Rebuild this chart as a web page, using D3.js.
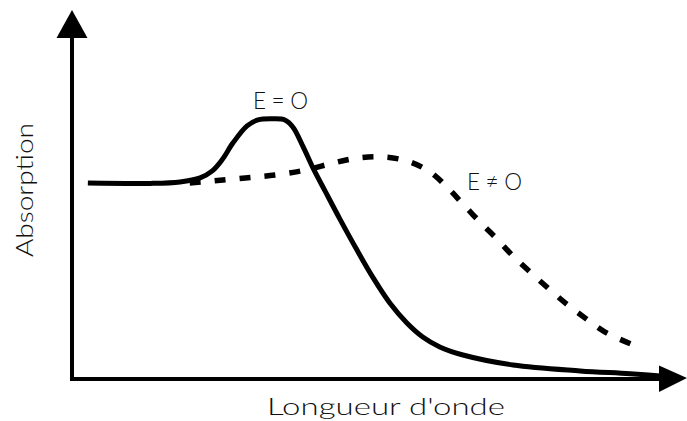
<!DOCTYPE html>
<html>
<head>
<meta charset="utf-8">
<script src="https://cdn.jsdelivr.net/npm/d3@7"></script>
<style>
  html, body { margin: 0; padding: 0; background: #fff; }
  svg { display: block; }
  text { font-family: "Lato", "Open Sans", "DejaVu Sans", sans-serif; font-weight: 300; fill: #111; }
</style>
</head>
<body>
<script>
// Wavelength (arbitrary units) and absorption (arbitrary units)
const solidX = [2.6, 12.8, 17.7, 21.0, 23.0, 24.6, 26.4, 28.7, 30.5, 32.8, 34.9, 36.2, 37.9, 39.5, 41.5, 43.9, 46.7, 49.3, 52.1, 54.9, 57.5, 60.3, 64.1, 72.3, 83.3, 91.5, 98.9];
const solidY = [53.1, 53.0, 53.4, 54.5, 56.4, 59.4, 64.0, 68.6, 70.2, 70.5, 70.2, 68.3, 62.9, 57.2, 50.9, 43.4, 35.0, 27.6, 20.6, 15.2, 11.4, 8.7, 6.5, 3.8, 2.2, 1.4, 0.5];
const dashX = [19.3, 23.4, 28.4, 33.3, 38.2, 42.3, 46.4, 50.5, 54.9, 58.7, 61.6, 64.1, 66.9, 69.7, 72.3, 75.1, 78.2, 81.1, 84.3, 87.4, 92.5];
const dashY = [53.1, 53.7, 54.5, 55.3, 56.6, 58.3, 59.8, 60.2, 59.1, 56.1, 51.8, 47.4, 42.5, 37.9, 33.3, 29.0, 24.4, 20.3, 16.3, 12.7, 8.9];
const curveLabels = ["E=O", "E\u2260O"];
const xTitle = "Longueur d'onde";
const yTitle = "Absorption";

const W = 687, H = 421;
const svg = d3.select("body").append("svg").attr("width", W).attr("height", H);

const x = d3.scaleLinear().domain([0, 100]).range([72, 682]);
const y = d3.scaleLinear().domain([0, 100]).range([379, 10]);

const line = d3.line()
  .x(d => x(d[0]))
  .y(d => y(d[1]))
  .curve(d3.curveCatmullRom.alpha(0.5));

const solid = solidX.map((v, i) => [v, solidY[i]]);
const dashed = dashX.map((v, i) => [v, dashY[i]]);

// Axes with arrowheads
const x0 = x(0), y0 = y(0);
const xEnd = x.range()[1] + 5, yEnd = y.range()[1];
svg.append("line").attr("x1", x0).attr("y1", y0 + 2).attr("x2", x0).attr("y2", yEnd + 26)
  .attr("stroke", "#000").attr("stroke-width", 4);
svg.append("line").attr("x1", x0 - 2).attr("y1", y0).attr("x2", xEnd - 26).attr("y2", y0)
  .attr("stroke", "#000").attr("stroke-width", 4);
svg.append("path")
  .attr("d", `M${x0},${yEnd} L${x0 + 15.5},${yEnd + 28} L${x0 - 15.5},${yEnd + 28} Z`)
  .attr("fill", "#000");
svg.append("path")
  .attr("d", `M${xEnd},${y0 - 1} L${xEnd - 28},${y0 - 13.5} L${xEnd - 28},${y0 + 13} Z`)
  .attr("fill", "#000");

// Curves
svg.append("path").datum(dashed).attr("d", line)
  .attr("fill", "none").attr("stroke", "#000").attr("stroke-width", 5.5)
  .attr("stroke-dasharray", "11,14");
svg.append("path").datum(solid).attr("d", line)
  .attr("fill", "none").attr("stroke", "#000").attr("stroke-width", 5)
  .attr("stroke-linejoin", "round").attr("stroke-linecap", "butt");

// Labels
svg.append("text").attr("x", 253).attr("y", 108.5)
  .attr("font-size", 22.5).attr("textLength", 55).attr("lengthAdjust", "spacing")
  .text(curveLabels[0]);
svg.append("text").attr("x", 467).attr("y", 189.5)
  .attr("font-size", 22.5).attr("textLength", 55).attr("lengthAdjust", "spacing")
  .text(curveLabels[1]);
svg.append("text").attr("x", 267).attr("y", 415)
  .attr("font-size", 23).attr("textLength", 238).attr("lengthAdjust", "spacingAndGlyphs")
  .text(xTitle);
svg.append("text")
  .attr("transform", "translate(33,257) rotate(-90)")
  .attr("font-size", 23).attr("textLength", 134).attr("lengthAdjust", "spacingAndGlyphs")
  .text(yTitle);
</script>
</body>
</html>
